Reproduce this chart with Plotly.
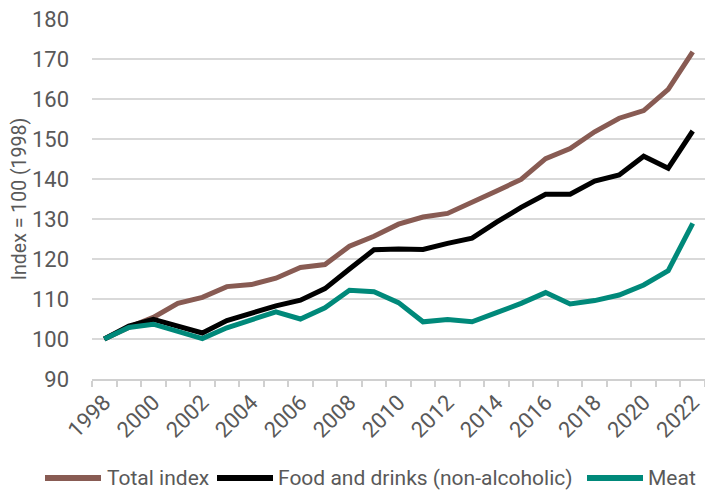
import plotly.graph_objects as go

years = list(range(1998, 2023))
total_index = [100, 102.9, 105.4, 108.9, 110.4, 113.1, 113.6, 115.2, 117.9, 118.6,
               123.2, 125.7, 128.7, 130.5, 131.4, 134.1, 137.0, 139.9, 145.1, 147.6,
               151.8, 155.2, 157.1, 162.4, 171.8]
food_drinks = [100, 103.2, 104.9, 103.2, 101.5, 104.6, 106.6, 108.3, 109.7, 112.6,
               117.5, 122.3, 122.5, 122.4, 123.9, 125.2, 129.2, 132.9, 136.2, 136.2,
               139.5, 141.0, 145.7, 142.7, 152.0]
meat = [100, 102.9, 103.7, 101.8, 100.1, 102.8, 104.75, 106.8, 105.0, 107.8,
        112.2, 111.8, 109.1, 104.3, 104.9, 104.3, 106.6, 108.9, 111.6, 108.75,
        109.6, 111.0, 113.5, 117.1, 128.9]

series_names = ["Total index", "Food and drinks (non-alcoholic)", "Meat"]
series_values = [total_index, food_drinks, meat]
series_colors = ["#885B53", "#000000", "#00897A"]

W, H = 705, 491
M_L, M_R, M_T, M_B = 92, 0, 19, 112
text_color = "#595959"
font_family = "Roboto, Liberation Sans, Arial, sans-serif"

fig = go.Figure()
for name, vals, color in zip(series_names, series_values, series_colors):
    fig.add_trace(go.Scatter(
        x=years, y=vals, name=name, mode="lines",
        line=dict(color=color, width=5),
    ))

# Legend row below the axis: wide line swatches followed by their labels
plot_w = W - M_L - M_R
plot_h = H - M_T - M_B
def px_x(px):
    return (px - M_L) / plot_w
def px_y(py):
    return (H - M_B - py) / plot_h

legend_y = 478
swatch_x = [(45, 101), (217, 273), (587, 643)]
label_x = [105, 276, 646]
for (x0, x1), lx, name, color in zip(swatch_x, label_x, series_names, series_colors):
    fig.add_shape(type="line", xref="paper", yref="paper",
                  x0=px_x(x0), x1=px_x(x1), y0=px_y(legend_y), y1=px_y(legend_y),
                  line=dict(color=color, width=6))
    fig.add_annotation(xref="paper", yref="paper", x=px_x(lx), y=px_y(legend_y),
                       xanchor="left", yanchor="middle", text=name, showarrow=False,
                       font=dict(size=21, color=text_color))

fig.update_layout(
    width=W, height=H,
    margin=dict(l=M_L, r=M_R, t=M_T, b=M_B),
    paper_bgcolor="white", plot_bgcolor="white",
    font=dict(family=font_family, color=text_color, size=22),
    showlegend=False,
)

fig.update_xaxes(
    range=[1997.5, 2022.5], automargin=False,
    tickmode="linear", tick0=1998, dtick=2,
    tickangle=-45, ticks="", ticklen=0,
    showgrid=False, zeroline=False,
    showline=True, linecolor="#d0d0d0", linewidth=1.5,
    tickfont=dict(size=22, color=text_color),
    minor=dict(ticks="outside", tickmode="linear", tick0=1997.5, dtick=1,
               ticklen=6, tickcolor="#d0d0d0", tickwidth=1.5, showgrid=False),
)

fig.update_yaxes(
    range=[90, 180], automargin=False,
    tickmode="linear", tick0=90, dtick=10,
    showgrid=True, gridcolor="#d9d9d9", gridwidth=1.5,
    zeroline=False, showline=False, ticks="", ticklabelstandoff=22,
    tickfont=dict(size=22, color=text_color),
    title=dict(text="Index = 100 (1998)", font=dict(size=19.5, color=text_color), standoff=0),
)

fig.write_html("out.html")
